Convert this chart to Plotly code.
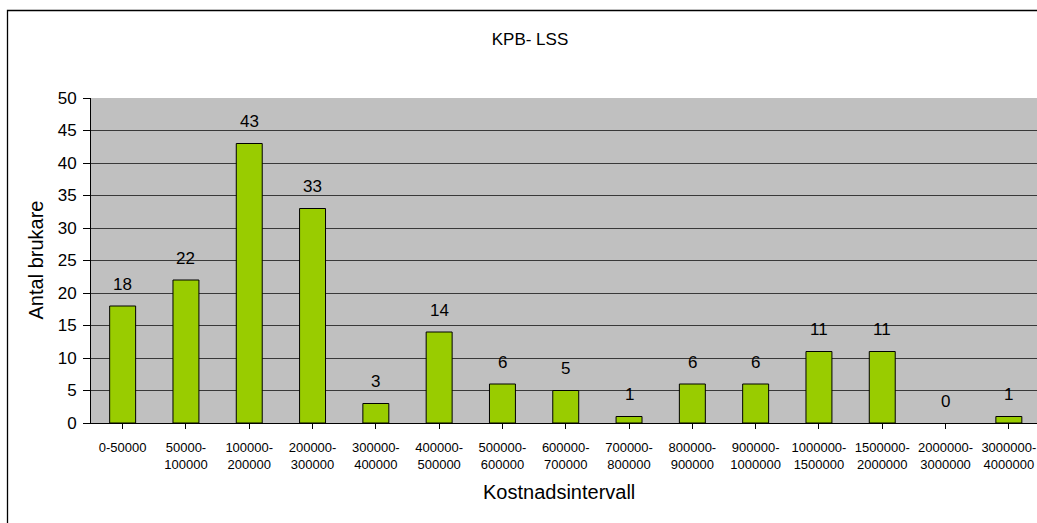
import plotly.graph_objects as go

categories = ["0-50000", "50000-<br>100000", "100000-<br>200000", "200000-<br>300000",
              "300000-<br>400000", "400000-<br>500000", "500000-<br>600000", "600000-<br>700000",
              "700000-<br>800000", "800000-<br>900000", "900000-<br>1000000", "1000000-<br>1500000",
              "1500000-<br>2000000", "2000000-<br>3000000", "3000000-<br>4000000"]
values = [18, 22, 43, 33, 3, 14, 6, 5, 1, 6, 6, 11, 11, 0, 1]
y_ticks = [0, 5, 10, 15, 20, 25, 30, 35, 40, 45, 50]

W, H = 1037, 523
L, T = 91, 98
PB = 423  # plot bottom in pixels
B = H - PB
PW = W - L
PH = PB - T
cat_px = 63.3

FONT = "Liberation Sans, Arial, sans-serif"

fig = go.Figure()
fig.add_trace(go.Bar(
    x=list(range(len(categories))), y=values,
    width=0.41,
    marker=dict(color="#99CC00",
                line=dict(color="black", width=[1 if v > 0 else 0 for v in values])),
    hoverinfo="skip",
))

for i, v in enumerate(values):
    fig.add_annotation(x=i, y=v, text=str(v), showarrow=False, yanchor="middle",
                       yshift=22, font=dict(family=FONT, size=17, color="black"))

# axis titles
fig.add_annotation(xref="paper", yref="paper", x=(559 - L) / PW, y=(PB - 492) / PH,
                   text="Kostnadsintervall", showarrow=False, xanchor="center", yanchor="middle",
                   font=dict(family=FONT, size=20, color="black"))
fig.add_annotation(xref="paper", yref="paper", x=(35 - L) / PW, y=0.5,
                   text="Antal brukare", showarrow=False, textangle=-90,
                   xanchor="center", yanchor="middle",
                   font=dict(family=FONT, size=20, color="black"))

# outer chart border
fig.add_shape(type="rect", xref="paper", yref="paper",
              x0=(7.5 - L) / PW, x1=(1060 - L) / PW,
              y0=(PB - 540) / PH, y1=(PB - 10.5) / PH,
              line=dict(color="black", width=1.3), fillcolor="rgba(0,0,0,0)", layer="above")

fig.update_layout(
    width=W, height=H,
    margin=dict(l=L, r=0, t=T, b=B, autoexpand=False),
    paper_bgcolor="white", plot_bgcolor="#C0C0C0",
    showlegend=False,
    title=dict(text="KPB- LSS", xref="container", yref="container",
               x=530 / W, y=1 - 39 / H,
               xanchor="center", yanchor="middle",
               font=dict(family=FONT, size=17, color="black")),
    xaxis=dict(
        tickmode="array", tickvals=list(range(len(categories))), ticktext=categories,
        range=[-0.5, -0.5 + PW / cat_px],
        tickson="boundaries", ticks="outside", ticklen=5, tickcolor="black",
        showline=True, linecolor="black", linewidth=1, showgrid=False, zeroline=False,
        tickfont=dict(family=FONT, size=13, color="black"),
        ticklabelstandoff=7,
        fixedrange=True,
    ),
    yaxis=dict(
        range=[0, 50], tickmode="array", tickvals=y_ticks,
        ticks="outside", ticklen=7, tickcolor="black",
        showline=True, linecolor="black", linewidth=1,
        showgrid=True, gridcolor="#383838", gridwidth=1, zeroline=False,
        tickfont=dict(family=FONT, size=17, color="black"),
        ticklabelstandoff=3,
        fixedrange=True,
    ),
)

fig.write_html(
    "out.html",
    config={"displayModeBar": False},
    post_script="document.body.style.margin='0';document.body.style.overflow='hidden';",
)
